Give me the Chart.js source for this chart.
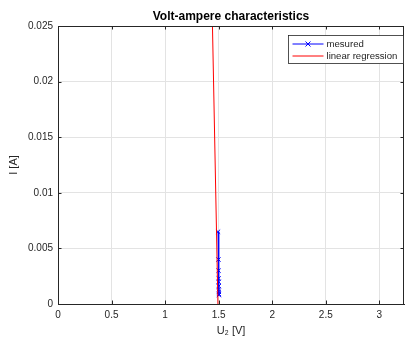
<!DOCTYPE html>
<html>
<head>
<meta charset="utf-8">
<script src="https://cdn.jsdelivr.net/npm/chart.js@4/dist/chart.umd.min.js"></script>
<style>
	html, body { margin: 0; padding: 0; background: #fff; }
</style>
</head>
<body>
<canvas id="myChart" width="405" height="340"></canvas>
<script>
'use strict';
// *** Data ***
const uMeasured = [1.494, 1.498, 1.499, 1.500, 1.500, 1.501, 1.501, 1.502, 1.502, 1.502];
const iMeasured = [0.0065, 0.0040, 0.0030, 0.0023, 0.0020, 0.0016, 0.0013, 0.0011, 0.0009, 0.0008];
const uFit = [1.493, 1.442];
const iFit = [0, 0.025];
const xTicks = [0, 0.5, 1, 1.5, 2, 2.5, 3];
const yTicks = [0, 0.005, 0.01, 0.015, 0.02, 0.025];

const FONT = "'Liberation Sans', Arial, Helvetica, sans-serif";
const AXIS_COLOR = '#262626';
const GRID_COLOR = '#e3e3e3';

function toPoints(aryX, aryY) {
	return aryX.map((x, i) => ({ x: x, y: aryY[i] }));
}

// box, inward ticks and legend like the original figure
const matlabLook = {
	id: 'matlabLook',
	afterDatasetsDraw(chart) {
		const ctx = chart.ctx;
		const a = chart.chartArea;
		const sx = chart.scales.x;
		const sy = chart.scales.y;
		ctx.save();
		ctx.strokeStyle = AXIS_COLOR;
		ctx.lineWidth = 1;
		ctx.beginPath();
		ctx.moveTo(a.left, a.top + 0.5);
		ctx.lineTo(a.right, a.top + 0.5);
		ctx.moveTo(a.right - 0.5, a.top);
		ctx.lineTo(a.right - 0.5, a.bottom);
		xTicks.forEach((v) => {
			const px = Math.round(sx.getPixelForValue(v)) + 0.5;
			ctx.moveTo(px, a.bottom);
			ctx.lineTo(px, a.bottom - 3.5);
			ctx.moveTo(px, a.top);
			ctx.lineTo(px, a.top + 3.5);
		});
		yTicks.forEach((v) => {
			const py = Math.round(sy.getPixelForValue(v)) + 0.5;
			ctx.moveTo(a.left, py);
			ctx.lineTo(a.left + 3.5, py);
			ctx.moveTo(a.right, py);
			ctx.lineTo(a.right - 3.5, py);
		});
		ctx.stroke();

		// legend
		const bx = 288.5, by = 35.5, bw = 115, bh = 28;
		ctx.fillStyle = '#fff';
		ctx.fillRect(bx, by, bw, bh);
		ctx.strokeStyle = AXIS_COLOR;
		ctx.lineWidth = 0.8;
		ctx.strokeRect(bx, by, bw, bh);
		ctx.font = '9.6px ' + FONT;
		ctx.textBaseline = 'middle';
		ctx.textAlign = 'left';
		const rows = [chart.data.datasets[0], chart.data.datasets[1]];
		rows.forEach((ds, i) => {
			const ry = by + 8.5 + i * 12;
			ctx.strokeStyle = ds.borderColor;
			ctx.lineWidth = 1;
			ctx.beginPath();
			ctx.moveTo(bx + 4, ry);
			ctx.lineTo(bx + 35, ry);
			ctx.stroke();
			if (ds.pointRadius > 0) {
				ctx.beginPath();
				ctx.moveTo(bx + 17, ry - 2.5);
				ctx.lineTo(bx + 22, ry + 2.5);
				ctx.moveTo(bx + 22, ry - 2.5);
				ctx.lineTo(bx + 17, ry + 2.5);
				ctx.stroke();
			}
			ctx.fillStyle = AXIS_COLOR;
			ctx.fillText(ds.label, bx + 38, ry);
		});
		ctx.restore();
	},
};

function chartIt() {
	const config = {
		type: 'line',
		data: {
			datasets: [
				{
					label: 'mesured',
					data: toPoints(uMeasured, iMeasured),
					borderColor: 'rgb(0, 0, 255)',
					backgroundColor: 'rgb(0, 0, 255)',
					borderWidth: 1,
					pointStyle: 'crossRot',
					pointRadius: 3,
					pointBorderWidth: 1,
					order: 1,
				},
				{
					label: 'linear regression',
					data: toPoints(uFit, iFit),
					borderColor: 'rgb(255, 0, 0)',
					backgroundColor: 'rgb(255, 0, 0)',
					borderWidth: 1,
					pointRadius: 0,
					order: 0,
				},
			],
		},
		options: {
			responsive: false,
			animation: false,
			devicePixelRatio: 1,
			layout: { autoPadding: false, padding: { left: 0, right: 1, top: 0, bottom: 0 } },
			plugins: {
				legend: { display: false },
				tooltip: { enabled: false },
				title: {
					display: true,
					fullSize: false,
					text: 'Volt-ampere characteristics',
					color: '#000',
					font: { family: FONT, size: 12, weight: 'bold' },
					padding: { top: 9, bottom: 2.6 },
				},
			},
			scales: {
				x: {
					type: 'linear',
					min: 0,
					max: 3.23,
					afterFit: (scale) => {
						scale.height = 36;
						scale.paddingLeft = 0;
						scale.paddingRight = 0;
					},
					afterBuildTicks: (scale) => { scale.ticks = xTicks.map((v) => ({ value: v })); },
					ticks: {
						color: AXIS_COLOR,
						font: { family: FONT, size: 10 },
						padding: 5,
						maxRotation: 0,
						autoSkip: false,
						callback: (v) => String(v),
					},
					grid: { color: GRID_COLOR, drawTicks: false },
					border: { color: AXIS_COLOR, width: 1 },
					title: {
						display: true,
						text: 'U\u2082 [V]',
						color: AXIS_COLOR,
						font: { family: FONT, size: 11 },
						padding: { top: 0, bottom: 2.5 },
					},
				},
				y: {
					type: 'linear',
					min: 0,
					max: 0.025,
					afterFit: (scale) => { scale.width = 58; },
					afterBuildTicks: (scale) => { scale.ticks = yTicks.map((v) => ({ value: v })); },
					ticks: {
						color: AXIS_COLOR,
						font: { family: FONT, size: 10 },
						padding: 5,
						autoSkip: false,
						callback: (v) => String(+Number(v).toFixed(3)),
					},
					grid: { color: GRID_COLOR, drawTicks: false },
					border: { color: AXIS_COLOR, width: 1 },
					title: {
						display: true,
						text: 'I [A]',
						color: AXIS_COLOR,
						font: { family: FONT, size: 11 },
						padding: { top: 7.5, bottom: 0 },
					},
				},
			},
		},
		plugins: [matlabLook],
	};
	return new Chart(document.getElementById('myChart'), config);
}

// *** Entry Point ***
chartIt();
</script>
</body>
</html>
